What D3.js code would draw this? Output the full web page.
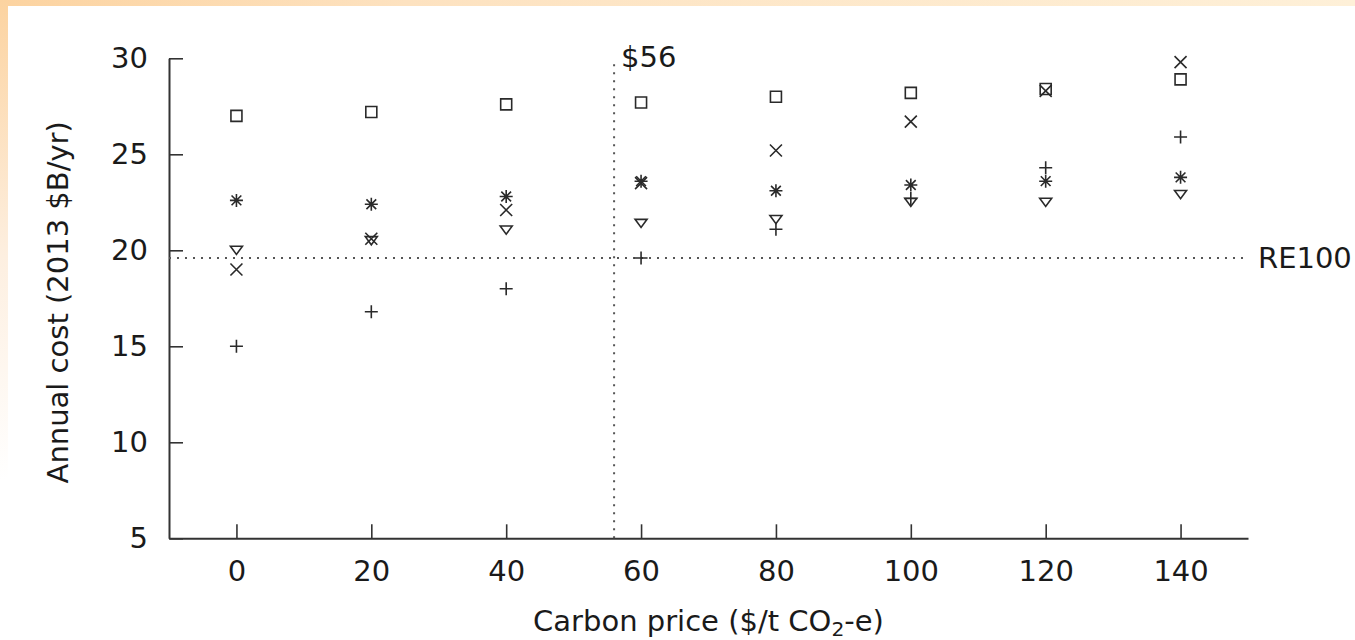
<!DOCTYPE html>
<html>
<head>
<meta charset="utf-8">
<script src="https://cdn.jsdelivr.net/npm/d3@7"></script>
<style>
  html, body { margin: 0; padding: 0; background: #ffffff; }
  svg { display: block; }
  text { font-family: "DejaVu Sans", sans-serif; fill: #1a1a1a; }
</style>
</head>
<body>
<svg id="chart" width="1355" height="640"></svg>
<script>
// ---- data ----
const carbonPrices = [0, 20, 40, 60, 80, 100, 120, 140];
const plusVals   = [15.0, 16.8, 18.0, 19.6, 21.1, 22.7, 24.3, 25.9];
const crossVals  = [19.0, 20.6, 22.1, 23.5, 25.2, 26.7, 28.3, 29.8];
const starVals   = [22.6, 22.4, 22.8, 23.6, 23.1, 23.4, 23.6, 23.8];
const squareVals = [27.0, 27.2, 27.6, 27.7, 28.0, 28.2, 28.4, 28.9];
const triVals    = [20.0, 20.5, 21.05, 21.4, 21.6, 22.5, 22.5, 22.9];
const xTicks = [0, 20, 40, 60, 80, 100, 120, 140];
const yTicks = [5, 10, 15, 20, 25, 30];
const xDomain = [-10, 150];
const yDomain = [5, 30];
const breakEvenPrice = 56;
const re100Cost = 19.6;
const xLabel = "Carbon price ($/t CO";
const yLabel = "Annual cost (2013 $B/yr)";

// ---- setup ----
const svg = d3.select("#chart");
const W = 1355, H = 640;

// background frame glow
const defs = svg.append("defs");
const gTop = defs.append("linearGradient").attr("id", "gTop").attr("x1", "0").attr("x2", "1").attr("y1", "0").attr("y2", "0");
gTop.append("stop").attr("offset", "0%").attr("stop-color", "#fcd3a0");
gTop.append("stop").attr("offset", "30%").attr("stop-color", "#fde2c0");
gTop.append("stop").attr("offset", "100%").attr("stop-color", "#fef0d8");
const gLeft = defs.append("linearGradient").attr("id", "gLeft").attr("x1", "0").attr("x2", "0").attr("y1", "0").attr("y2", "1");
gLeft.append("stop").attr("offset", "0%").attr("stop-color", "#fcd3a0");
gLeft.append("stop").attr("offset", "40%").attr("stop-color", "#fdefe0");
gLeft.append("stop").attr("offset", "75%").attr("stop-color", "#ffffff");
svg.append("rect").attr("x", 0).attr("y", 0).attr("width", W).attr("height", 6).attr("fill", "url(#gTop)");
svg.append("rect").attr("x", 0).attr("y", 0).attr("width", 8).attr("height", H).attr("fill", "url(#gLeft)");

const x = d3.scaleLinear().domain(xDomain).range([169, 1248]);
const y = d3.scaleLinear().domain(yDomain).range([538.3, 58.3]);

const fontSize = 29;
const axisColor = "#333";

// axes
const xAxis = svg.append("g").attr("transform", `translate(0,${y(yDomain[0])})`)
  .call(d3.axisBottom(x).tickValues(xTicks).tickSize(-14).tickSizeOuter(0).tickPadding(22));
const yAxis = svg.append("g").attr("transform", `translate(${x(xDomain[0])},0)`)
  .call(d3.axisLeft(y).tickValues(yTicks).tickSize(-14).tickSizeOuter(0).tickPadding(21));
[xAxis, yAxis].forEach(a => {
  a.select(".domain").attr("stroke", axisColor).attr("stroke-width", 2);
  a.selectAll(".tick line").attr("stroke", axisColor).attr("stroke-width", 1.6);
  a.selectAll(".tick text").attr("font-size", fontSize).attr("font-family", "DejaVu Sans").attr("fill", "#1a1a1a");
});

// reference dotted lines
const dotStyle = sel => sel.attr("stroke", "#555").attr("stroke-width", 2).attr("stroke-dasharray", "2,6").attr("fill", "none");
svg.append("line")
  .attr("x1", x(xDomain[0])).attr("x2", x(xDomain[1]))
  .attr("y1", y(re100Cost)).attr("y2", y(re100Cost))
  .call(dotStyle);
svg.append("line")
  .attr("x1", x(breakEvenPrice)).attr("x2", x(breakEvenPrice))
  .attr("y1", y(yDomain[0])).attr("y2", y(29.8))
  .call(dotStyle);

svg.append("text").attr("x", x(breakEvenPrice) + 7).attr("y", y(29.8) + 5)
  .attr("font-size", fontSize).text("$" + breakEvenPrice);
svg.append("text").attr("x", x(xDomain[1]) + 10).attr("y", y(re100Cost) + 10)
  .attr("font-size", fontSize).text("RE100");

// axis titles
const xt = svg.append("text").attr("x", (x(xDomain[0]) + x(xDomain[1])) / 2).attr("y", 631)
  .attr("text-anchor", "middle").attr("font-size", fontSize);
xt.append("tspan").text(xLabel);
xt.append("tspan").attr("font-size", fontSize * 0.7).attr("dy", 5).text("2");
xt.append("tspan").attr("dy", -5).text("-e)");

svg.append("text")
  .attr("transform", `translate(68,${(y(yDomain[0]) + y(yDomain[1])) / 2 + 4}) rotate(-90)`)
  .attr("text-anchor", "middle").attr("font-size", fontSize).text(yLabel);

// markers
const mk = { stroke: "#2a2a2a", width: 1.6 };
const shapes = {
  plus: s => `M${-s},0H${s}M0,${-s}V${s}`,
  cross: s => `M${-s},${-s}L${s},${s}M${-s},${s}L${s},${-s}`,
  star: s => `M${-s},0H${s}M0,${-s}V${s}M${-s*0.75},${-s*0.75}L${s*0.75},${s*0.75}M${-s*0.75},${s*0.75}L${s*0.75},${-s*0.75}`,
  square: s => `M${-s},${-s}H${s}V${s}H${-s}Z`,
  tri: s => `M${-s},${-s*0.68}H${s}L0,${s*0.68}Z`
};
const series = [
  { vals: squareVals, shape: "square", size: 5.5 },
  { vals: triVals, shape: "tri", size: 6 },
  { vals: crossVals, shape: "cross", size: 6 },
  { vals: plusVals, shape: "plus", size: 6.5 },
  { vals: starVals, shape: "star", size: 6.5 }
];
series.forEach(sr => {
  svg.append("g").selectAll("path")
    .data(carbonPrices.map((c, i) => ({ c, v: sr.vals[i] })))
    .join("path")
    .attr("transform", d => `translate(${x(d.c)},${y(d.v)})`)
    .attr("d", shapes[sr.shape](sr.size))
    .attr("fill", "none")
    .attr("stroke", mk.stroke)
    .attr("stroke-width", mk.width);
});
</script>
</body>
</html>
